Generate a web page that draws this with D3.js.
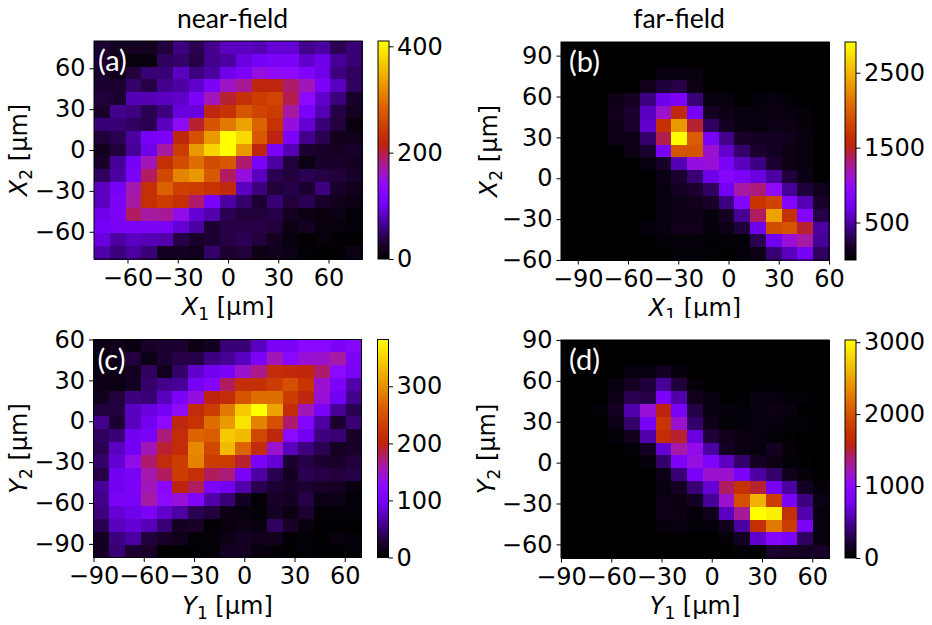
<!DOCTYPE html>
<html>
<head>
<meta charset="utf-8">
<script src="https://cdn.jsdelivr.net/npm/d3@7"></script>
<style>
body { margin: 0; background: #fff; }
text { font-family: "DejaVu Sans", sans-serif; fill: #000; }
</style>
</head>
<body>
<div id="vis"></div>
<script>
// counts per 17x17 bin, top row first
var nearX = [
  [29,20,20,20,33,57,41,62,82,82,78,90,90,62,70,41,53],
  [29,16,8,8,45,49,37,62,70,94,107,111,111,86,98,66,53],
  [25,16,33,53,53,82,57,70,98,115,148,139,135,119,98,57,45],
  [29,29,49,37,62,70,86,115,160,176,217,217,189,164,115,82,45],
  [33,29,78,78,82,86,115,164,205,230,246,254,197,135,86,57,25],
  [25,62,57,41,57,94,94,217,234,271,254,246,172,111,78,37,20],
  [53,53,45,41,82,139,205,271,303,336,287,234,148,90,53,33,8],
  [33,41,70,107,115,217,267,328,410,381,275,213,115,62,41,16,16],
  [20,33,66,98,172,246,328,377,410,328,217,111,78,29,25,20,25],
  [25,66,107,164,230,262,295,262,275,189,111,70,33,12,25,25,20],
  [45,70,115,193,258,312,328,275,193,148,82,41,33,41,37,33,25],
  [82,107,168,230,283,250,246,234,221,82,57,33,37,29,57,25,16],
  [82,111,172,230,246,230,189,111,70,49,29,53,33,41,25,16,12],
  [98,115,193,172,176,144,90,74,41,33,33,37,20,12,8,12,4],
  [107,111,111,111,111,90,70,29,37,37,37,33,12,20,8,8,4],
  [94,70,82,78,74,37,25,29,37,41,33,20,8,2,8,2,2],
  [74,57,70,53,20,20,16,49,29,33,12,16,12,4,2,2,12]
];
var farX = [
  [0,0,0,0,0,0,0,0,0,0,0,0,0,0,0,0,0],
  [0,0,0,0,0,0,0,0,0,0,0,0,0,0,0,0,0],
  [0,0,0,0,0,0,60,60,60,0,0,0,0,0,0,0,0],
  [0,0,0,0,0,120,230,260,90,0,0,0,0,0,0,0,0],
  [0,0,0,90,150,410,700,815,380,60,60,0,30,60,30,0,0],
  [0,0,0,115,200,580,1105,1570,755,145,90,60,60,70,60,45,0],
  [0,0,0,90,200,610,1630,2330,1455,320,145,60,60,90,90,45,0],
  [0,0,0,90,90,350,1400,2910,1980,785,435,175,145,145,115,60,0],
  [0,0,0,0,90,200,755,1920,1920,1105,610,350,200,145,90,60,0],
  [0,0,0,0,0,60,175,550,1050,1075,785,580,410,200,90,60,0],
  [0,0,0,0,0,0,90,200,380,700,870,815,670,495,230,90,0],
  [0,0,0,0,0,0,60,145,200,320,730,1220,1310,990,465,230,115],
  [0,0,0,0,0,0,60,90,115,175,410,870,1690,1800,870,550,175],
  [0,0,0,0,0,0,60,90,90,45,145,465,1370,2385,1660,870,260],
  [0,0,0,0,0,45,60,115,115,45,90,230,700,1860,1920,1455,495],
  [0,0,0,0,0,0,30,45,45,15,30,30,290,730,1075,1220,465],
  [0,0,0,0,0,0,0,30,30,30,0,30,90,380,580,755,320]
];
var nearY = [
  [11,15,8,23,27,27,11,19,50,50,76,103,103,122,122,107,118],
  [8,15,31,11,27,34,34,53,61,76,107,153,122,141,145,160,107],
  [11,11,19,42,15,46,80,96,107,145,168,210,206,202,176,126,103],
  [11,11,19,46,57,61,99,115,180,214,214,229,248,222,145,107,69],
  [15,31,53,50,76,107,138,199,210,252,275,275,229,202,141,96,57],
  [31,31,76,88,99,130,210,229,283,344,382,313,210,153,107,61,38],
  [57,27,76,96,126,202,218,275,306,363,290,248,176,115,65,27,50],
  [42,50,96,103,172,210,267,260,344,332,241,202,126,96,53,50,23],
  [38,76,96,153,191,210,294,241,332,267,210,145,76,53,38,19,23],
  [46,84,134,176,210,229,290,229,229,191,103,84,27,34,27,23,31],
  [34,96,103,157,180,229,214,180,172,103,65,38,19,38,34,31,34],
  [61,96,107,153,122,199,180,107,96,69,38,27,23,27,23,19,8],
  [57,103,103,160,126,141,111,69,50,19,4,23,19,34,11,11,4],
  [53,84,92,103,80,65,38,31,11,8,4,19,11,27,4,4,4],
  [38,76,84,73,50,19,23,2,8,11,8,42,23,8,2,2,0],
  [19,53,65,31,23,15,4,4,11,19,15,15,2,4,0,8,4],
  [19,50,27,23,2,0,2,4,19,19,8,4,0,4,2,0,4]
];
var farY = [
  [0,0,0,0,0,0,0,0,0,0,0,0,0,0,0,0,0],
  [0,0,0,0,0,0,0,0,0,0,0,0,0,0,0,0,0],
  [0,0,0,0,60,60,150,45,0,0,0,0,0,0,0,0,0],
  [0,0,0,60,150,240,485,240,45,0,15,15,15,15,0,0,0],
  [0,0,0,90,300,270,850,545,120,60,15,15,60,60,30,30,0],
  [0,0,30,150,545,1120,1575,820,270,60,45,30,60,90,60,0,0],
  [0,0,0,90,365,820,1760,1150,365,120,30,30,60,60,30,30,0],
  [0,0,0,30,120,545,1665,1515,695,240,120,75,60,30,15,0,0],
  [0,0,0,0,30,150,665,1270,1060,515,150,90,45,150,45,0,0],
  [0,0,0,0,0,45,365,850,1090,880,605,365,150,90,30,15,0],
  [0,0,0,0,0,15,90,395,820,1150,1150,850,515,365,120,45,0],
  [0,0,0,0,0,15,60,150,395,665,1425,1725,1515,790,515,150,45],
  [0,0,0,0,0,15,90,75,150,485,1150,1970,2575,1820,850,425,90],
  [0,0,0,0,0,15,90,90,30,120,605,1300,3030,2940,1695,545,60],
  [0,0,0,0,0,0,45,60,30,30,120,515,1695,2240,1820,820,60],
  [0,0,0,0,0,0,15,15,0,0,45,150,635,910,820,335,60],
  [0,0,0,0,0,0,0,0,0,0,0,30,0,210,180,150,180]
];

var ticksA = [-60, -30, 0, 30, 60];
var ticksB = [-90, -60, -30, 0, 30, 60];
var ticksBY = [90, 60, 30, 0, -30, -60];
var ticksCY = [60, 30, 0, -30, -60, -90];
var ticksDY = [90, 60, 30, 0, -30, -60];

// colour map, picked off the colour bars
var cmapStops = [0, 0.07, 0.15, 0.25, 0.33, 0.41, 0.47, 0.52, 0.58, 0.7, 0.8, 0.9, 1];
var cmapColors = ["#000000", "#1c0030", "#42008c", "#7400f4", "#8c08ff", "#a418b0", "#b01c60", "#bc2410", "#c83400", "#dc6400", "#ea9800", "#f6ca00", "#ffff00"];

var color = d3.scaleLinear().domain(cmapStops).range(cmapColors);

var panels = [
  { id: "a", values: nearX, vmax: 410, bar: [0, 200, 400], xdom: [-80, 80], ydom: [-80, 80], xt: ticksA, yt: ticksA, sym: "X",
    left: 94, right: 362, top: 41, bottom: 259, ylab: 27, clipBottom: 625 },
  { id: "b", values: farX, vmax: 2910, bar: [500, 1500, 2500], xdom: [-100, 60], ydom: [-60, 100], xt: ticksB, yt: ticksBY, sym: "X",
    left: 561, right: 829, top: 42, bottom: 260, ylab: 497, clipBottom: 318 },
  { id: "c", values: nearY, vmax: 382, bar: [0, 100, 200, 300], xdom: [-90, 70], ydom: [-100, 60], xt: ticksB, yt: ticksCY, sym: "Y",
    left: 93.5, right: 361.5, top: 339.5, bottom: 557.5, ylab: 27, clipBottom: 625 },
  { id: "d", values: farY, vmax: 3030, bar: [0, 1000, 2000, 3000], xdom: [-90, 70], ydom: [-70, 90], xt: ticksB, yt: ticksDY, sym: "Y",
    left: 561, right: 829, top: 340, bottom: 558, ylab: 495, clipBottom: 625 }
];

var svg = d3.select("#vis").append("svg")
    .attr("width", 932)
    .attr("height", 625)
    .style("display", "block");

var defs = svg.append("defs");
var grad = defs.append("linearGradient")
    .attr("id", "cbar")
    .attr("x1", 0).attr("x2", 0).attr("y1", 1).attr("y2", 0);
grad.selectAll("stop").data(cmapStops).enter().append("stop")
    .attr("offset", function(d) { return d; })
    .attr("stop-color", function(d) { return color(d); });

function styleAxis(g) {
    g.selectAll("text").style("font-size", "24px").style("font-family", "'DejaVu Sans'");
    g.selectAll("line").attr("stroke", "#000").attr("stroke-width", 1);
    g.select(".domain").remove();
}

function axisLabel(sel, sym, sub) {
    sel.append("tspan").style("font-style", "italic").text(sym);
    sel.append("tspan").attr("dy", 5).style("font-size", "17px").text(sub);
    sel.append("tspan").attr("dy", -5).text(" [µm]");
}

function drawPanel(p) {
    var x = d3.scaleLinear().domain(p.xdom).range([p.left, p.right]);
    var y = d3.scaleLinear().domain(p.ydom).range([p.bottom, p.top]);
    var nx = p.values[0].length, ny = p.values.length;
    var dx = (p.xdom[1] - p.xdom[0]) / nx, dy = (p.ydom[1] - p.ydom[0]) / ny;

    var cells = [];
    p.values.forEach(function(row, j) {
        row.forEach(function(v, i) { cells.push({ i: i, j: j, v: v }); });
    });

    var g = svg.append("g").attr("shape-rendering", "crispEdges");
    g.selectAll("rect").data(cells).enter().append("rect")
        .attr("x", function(d) { return x(p.xdom[0] + d.i * dx); })
        .attr("y", function(d) { return y(p.ydom[1] - d.j * dy); })
        .attr("width", x(p.xdom[0] + dx) - x(p.xdom[0]) + 0.5)
        .attr("height", y(p.ydom[1] - dy) - y(p.ydom[1]) + 0.5)
        .attr("fill", function(d) { return color(d.v / p.vmax); });

    svg.append("rect")
        .attr("x", p.left).attr("y", p.top)
        .attr("width", p.right - p.left).attr("height", p.bottom - p.top)
        .attr("fill", "none").attr("stroke", "#000").attr("stroke-width", 1);

    svg.append("g")
        .attr("transform", "translate(0," + p.bottom + ")")
        .call(d3.axisBottom(x).tickValues(p.xt).tickFormat(d3.format("d")).tickSize(4.5).tickPadding(5))
        .call(styleAxis);
    svg.append("g")
        .attr("transform", "translate(" + p.left + ",0)")
        .call(d3.axisLeft(y).tickValues(p.yt).tickFormat(d3.format("d")).tickSize(4.5).tickPadding(4))
        .call(styleAxis);

    // x label of (b) runs under panel (d) in the original, so it gets cut
    var clipId = "clip" + p.id;
    defs.append("clipPath").attr("id", clipId).append("rect")
        .attr("x", 0).attr("y", 0).attr("width", 932).attr("height", p.clipBottom);
    svg.append("g").attr("clip-path", "url(#" + clipId + ")")
        .append("text")
        .attr("x", (p.left + p.right) / 2)
        .attr("y", p.bottom + 56)
        .attr("text-anchor", "middle")
        .style("font-size", "24px")
        .call(axisLabel, p.sym, "1");
    svg.append("text")
        .attr("transform", "translate(" + p.ylab + "," + (p.top + p.bottom) / 2 + ") rotate(-90)")
        .attr("text-anchor", "middle")
        .style("font-size", "24px")
        .call(axisLabel, p.sym, "2");

    // colour bar
    var barLeft = p.right + 16, barW = 11;
    var c = d3.scaleLinear().domain([0, p.vmax]).range([p.bottom, p.top]);
    svg.append("rect")
        .attr("x", barLeft).attr("y", p.top)
        .attr("width", barW).attr("height", p.bottom - p.top)
        .attr("fill", "url(#cbar)")
        .attr("stroke", "#000").attr("stroke-width", 1);
    svg.append("g")
        .attr("transform", "translate(" + (barLeft + barW) + ",0)")
        .call(d3.axisRight(c).tickValues(p.bar).tickFormat(d3.format("d")).tickSize(4.5).tickPadding(3.5))
        .call(styleAxis);

    svg.append("text")
        .attr("x", p.left + (p.id == "a" || p.id == "c" ? 4 : 8))
        .attr("y", p.top + 30)
        .style("font-family", "Lato")
        .style("font-size", "29px")
        .style("fill", "#fff")
        .text("(" + p.id + ")");
}

panels.forEach(drawPanel);

svg.append("text").attr("x", 232.5).attr("y", 28).attr("text-anchor", "middle")
    .style("font-family", "Lato").style("font-size", "26.5px").text("near-field");
svg.append("text").attr("x", 679).attr("y", 28).attr("text-anchor", "middle")
    .style("font-family", "Lato").style("font-size", "26.5px").text("far-field");
</script>
</body>
</html>
